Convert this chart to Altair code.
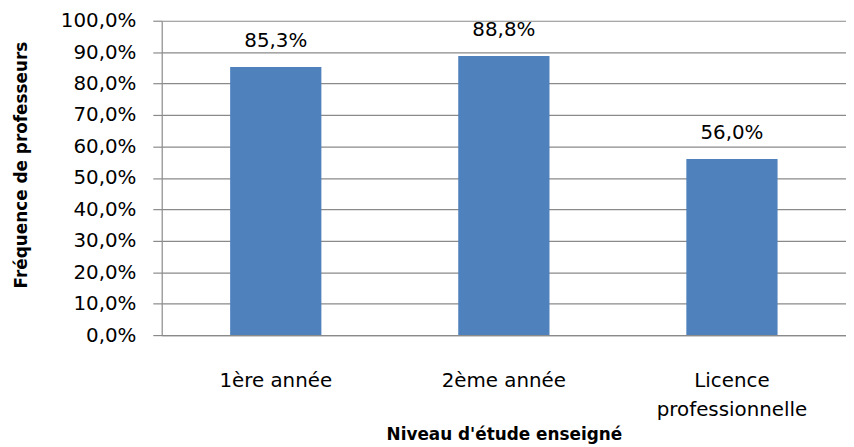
import altair as alt
import pandas as pd

categories = ["1ère année", "2ème année", "Licence professionnelle"]
frequencies = [0.853, 0.888, 0.560]
y_ticks = [0.0, 0.1, 0.2, 0.3, 0.4, 0.5, 0.6, 0.7, 0.8, 0.9, 1.0]

df = pd.DataFrame({"niveau": categories, "freq": frequencies})

FONT = "DejaVu Sans"
GRID = "#8a8a8a"

base = alt.Chart(df).encode(
    x=alt.X(
        "niveau:N",
        sort=None,
        scale=alt.Scale(paddingInner=0.6, paddingOuter=0.3),
        axis=alt.Axis(
            title="Niveau d'étude enseigné",
            titleFont=FONT,
            titleFontSize=17,
            titleFontWeight="bold",
            titleColor="black",
            titleBaseline="middle",
            titleY=100,
            labelFont=FONT,
            labelFontSize=20,
            labelColor="black",
            labelAngle=0,
            labelBaseline="top",
            labelPadding=36,
            labelLineHeight=29,
            labelExpr="datum.label == 'Licence professionnelle' ? ['Licence', 'professionnelle'] : datum.label",
            ticks=False,
            domainColor=GRID,
            domainWidth=1.2,
            grid=False,
        ),
    ),
    y=alt.Y(
        "freq:Q",
        scale=alt.Scale(domain=[0, 1], nice=False),
        axis=alt.Axis(
            title="Fréquence de professeurs",
            titleFont=FONT,
            titleFontSize=17,
            titleFontWeight="bold",
            titleColor="black",
            titleAngle=-90,
            titleAlign="center",
            titleBaseline="middle",
            titleX=-141,
            titleY=145,
            values=y_ticks,
            labelExpr="replace(format(datum.value, '.1%'), '.', ',')",
            labelFont=FONT,
            labelFontSize=20,
            labelColor="black",
            labelPadding=17,
            tickSize=9,
            tickColor=GRID,
            tickWidth=1.2,
            domainColor=GRID,
            domainWidth=1.2,
            grid=True,
            gridColor=GRID,
            gridWidth=1.2,
        ),
    ),
)

bars = base.mark_bar(color="#4F81BD")

labels = base.transform_calculate(
    label="replace(format(datum.freq, '.1%'), '.', ',')"
).mark_text(
    baseline="alphabetic", dy=-20, font=FONT, fontSize=20, color="black"
).encode(text="label:N")

chart = (
    alt.layer(bars, labels)
    .properties(
        width=690,
        height=317,
        autosize=alt.AutoSizeParams(type="none"),
        padding={"left": 155, "top": 11, "right": 0, "bottom": 112},
        background="white",
    )
    .configure_view(stroke=None)
)

chart.save("out.html", embed_options={"renderer": "svg", "actions": False})
